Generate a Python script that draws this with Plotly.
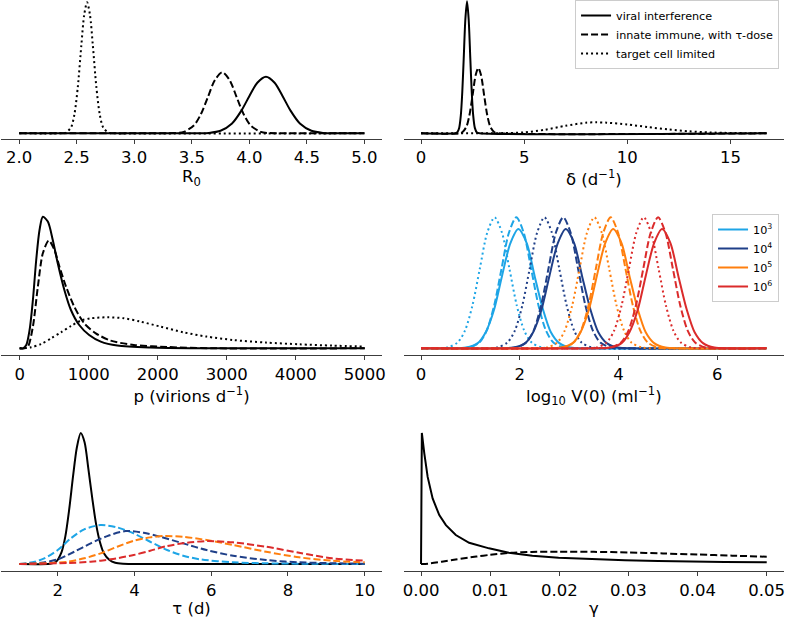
import plotly.graph_objects as go

# ---------------- data (density heights, arbitrary units) -------------
# Panel 1: R0
r0_solid_x = [2.0, 3.55, 3.65, 3.75, 3.85, 3.93, 4.00, 4.07, 4.145, 4.22, 4.29, 4.36, 4.44, 4.54, 4.64, 4.75, 5.0]
r0_solid_y = [0, 0, 0.4, 2.5, 9.8, 22.4, 37.1, 50.6, 56.6, 50.6, 37.1, 22.4, 9.8, 2.5, 0.4, 0, 0]
r0_dashed_x = [2.0, 3.25, 3.35, 3.43, 3.52, 3.58, 3.64, 3.70, 3.765, 3.83, 3.89, 3.95, 4.01, 4.10, 4.18, 4.30, 5.0]
r0_dashed_y = [0, 0, 0.2, 1.4, 8.1, 19.3, 36.2, 53, 61, 53, 36.2, 19.3, 8.1, 1.4, 0.2, 0, 0]
r0_dotted_x = [2.0, 2.35, 2.40, 2.45, 2.48, 2.51, 2.54, 2.565, 2.59, 2.615, 2.64, 2.67, 2.70, 2.73, 2.78, 2.83, 5.0]
r0_dotted_y = [0, 0, 0.4, 5.8, 19, 47, 88, 118.5, 131, 118.5, 88, 47, 19, 5.8, 0.4, 0, 0]

# Panel 2: delta
delta_solid_x = [0, 1.65, 1.75, 1.85, 1.93, 2.00, 2.07, 2.15, 2.23, 2.31, 2.39, 2.46, 2.53, 2.61, 2.71, 2.85, 16.76]
delta_solid_y = [0, 0, 0.8, 5.4, 17.9, 41, 74.8, 114, 132, 114, 74.8, 41, 17.9, 5.4, 0.8, 0, 0]
delta_dashed_x = [0, 1.85, 2.0, 2.2, 2.35, 2.5, 2.65, 2.78, 2.91, 3.06, 3.21, 3.36, 3.56, 3.8, 16.76]
delta_dashed_y = [0, 0, 1.0, 6.5, 18.3, 38, 58.2, 65.3, 58.2, 38, 18.3, 6.5, 1.0, 0, 0]
delta_dotted_x = [0, 3, 4, 5, 6, 7, 8, 8.5, 9, 10, 11, 12, 13, 14, 15, 16, 16.76]
delta_dotted_y = [0, 0, 0.2, 0.9, 3.5, 7.5, 10.6, 11, 10.6, 8.8, 6.2, 3.8, 2.0, 0.9, 0.3, 0.1, 0]

# Panel 3: p
p_solid_x = [0, 50, 96, 144, 192, 240, 288, 336, 408, 480, 552, 648, 743, 863, 1007, 1175, 1415, 1894, 2613, 5000]
p_solid_y = [0, 0, 3.3, 18.3, 48.3, 88.3, 118.3, 131.6, 126.7, 108.3, 85, 58.3, 38.3, 23.3, 13.3, 6.7, 2.7, 0.7, 0, 0]
p_dashed_x = [0, 70, 120, 192, 264, 336, 422, 504, 576, 672, 791, 935, 1103, 1319, 1654, 2134, 2853, 5000]
p_dashed_y = [0, 0, 1.7, 21.7, 61.7, 95, 107.7, 98.3, 81.7, 61.7, 41.7, 25, 15, 7.7, 3.3, 1.3, 0, 0]
p_dotted_x = [0, 24, 168, 312, 456, 600, 743, 887, 1031, 1271, 1510, 1750, 2038, 2373, 2709, 3092, 3572, 4051, 4530, 5000]
p_dotted_y = [0, 0, 1, 4.3, 10, 16, 22.3, 27.7, 30, 31, 30, 26.7, 21.7, 16, 11.7, 8.3, 5.7, 4, 2.7, 1.7]

# Panel 4: log10 V(0), one group per inoculum dose
dose_labels = ["10<sup>3</sup>", "10<sup>4</sup>", "10<sup>5</sup>", "10<sup>6</sup>"]
dose_colors = ["#1ea5e6", "#1f3f88", "#ff7f0e", "#db2b2b"]
v0_solid_y = [0, 0, 0.7, 5.2, 16.1, 38.8, 72.4, 105.2, 119.3, 105.2, 72.4, 38.8, 16.1, 5.2, 0.7, 0, 0]
v0_dashed_y = [0, 0, 0.8, 5.8, 17.7, 42.6, 79.5, 115.5, 131, 115.5, 79.5, 42.6, 17.7, 5.8, 0.8, 0, 0]
v0_dotted_y = [0, 0, 0.8, 5.8, 17.7, 42.6, 79.5, 115.5, 131, 115.5, 79.5, 42.6, 17.7, 5.8, 0.8, 0, 0]
v0_solid_x = [
    [0, 0.62, 0.91, 1.15, 1.31, 1.48, 1.64, 1.81, 1.97, 2.14, 2.30, 2.47, 2.63, 2.80, 3.03, 3.32, 7],
    [0, 1.58, 1.87, 2.11, 2.27, 2.44, 2.60, 2.77, 2.93, 3.10, 3.26, 3.43, 3.59, 3.76, 3.99, 4.28, 7],
    [0, 2.54, 2.83, 3.07, 3.23, 3.40, 3.56, 3.73, 3.89, 4.06, 4.22, 4.39, 4.55, 4.72, 4.95, 5.24, 7],
    [0, 3.53, 3.82, 4.06, 4.22, 4.39, 4.55, 4.72, 4.88, 5.05, 5.21, 5.38, 5.54, 5.71, 5.94, 6.23, 7],
]
v0_dashed_x = [
    [0, 0.68, 0.97, 1.18, 1.33, 1.48, 1.63, 1.78, 1.93, 2.08, 2.23, 2.38, 2.53, 2.68, 2.89, 3.18, 7],
    [0, 1.63, 1.92, 2.13, 2.28, 2.43, 2.58, 2.73, 2.88, 3.03, 3.18, 3.33, 3.48, 3.63, 3.84, 4.13, 7],
    [0, 2.59, 2.88, 3.09, 3.24, 3.39, 3.54, 3.69, 3.84, 3.99, 4.14, 4.29, 4.44, 4.59, 4.80, 5.09, 7],
    [0, 3.55, 3.84, 4.05, 4.20, 4.35, 4.50, 4.65, 4.80, 4.95, 5.10, 5.25, 5.40, 5.55, 5.76, 6.05, 7],
]
v0_dotted_x = [
    [0, 0.24, 0.53, 0.74, 0.89, 1.04, 1.19, 1.34, 1.49, 1.64, 1.79, 1.94, 2.09, 2.24, 2.45, 2.74, 7],
    [0, 1.25, 1.54, 1.75, 1.90, 2.05, 2.20, 2.35, 2.50, 2.65, 2.80, 2.95, 3.10, 3.25, 3.46, 3.75, 7],
    [0, 2.26, 2.55, 2.76, 2.91, 3.06, 3.21, 3.36, 3.51, 3.66, 3.81, 3.96, 4.11, 4.26, 4.47, 4.76, 7],
    [0, 3.26, 3.55, 3.76, 3.91, 4.06, 4.21, 4.36, 4.51, 4.66, 4.81, 4.96, 5.11, 5.26, 5.47, 5.76, 7],
]

# Panel 5: tau
tau_solid_x = [1.0, 1.8, 1.95, 2.1, 2.2, 2.3, 2.4, 2.5, 2.6, 2.7, 2.8, 2.9, 3.0, 3.1, 3.2, 3.35, 3.5, 3.7, 4.0, 10.0]
tau_solid_y = [0, 0.3, 2, 12, 28, 55, 88, 117, 131.3, 122, 95, 66, 40, 22, 11, 4, 1.2, 0.2, 0, 0]
tau_dashed_x = [
    [1.0, 1.40, 1.65, 2.0, 2.34, 2.69, 3.12, 3.55, 3.98, 4.41, 4.85, 5.27, 5.71, 6.57, 7.43, 10.0],
    [1.0, 1.57, 2.0, 2.43, 2.86, 3.29, 3.77, 4.24, 4.67, 5.27, 5.88, 6.57, 7.43, 8.29, 10.0],
    [1.0, 1.83, 2.26, 2.69, 3.12, 3.55, 3.98, 4.41, 4.76, 5.27, 5.88, 6.57, 7.43, 8.29, 9.15, 10.0],
    [1.0, 2.26, 2.86, 3.38, 3.98, 4.41, 4.85, 5.36, 5.88, 6.57, 7.43, 8.29, 9.15, 10.0],
]
tau_dashed_y = [
    [0, 2.3, 5.7, 14, 25.7, 34.7, 39, 36.7, 30.7, 22.3, 14, 8.3, 4.7, 1.7, 0.7, 0],
    [0, 1.3, 4.7, 12.3, 20.7, 28, 33, 31.3, 27.3, 20.7, 14, 8.3, 4, 1.7, 0.3],
    [0, 1, 2.3, 5.7, 10.7, 17.3, 23.3, 26.7, 28, 27.3, 24, 19, 12.3, 6.7, 3.3, 1.7],
    [0, 1, 2.3, 4.7, 9, 13.3, 18, 21.3, 23, 21.7, 17.3, 11.3, 5.7, 3.3],
]

# Panel 6: gamma
gamma_solid_x = [0, 0.00012, 0.00048, 0.00096, 0.00168, 0.00264, 0.0036, 0.00503, 0.00696, 0.00983,
                 0.0127, 0.0161, 0.0199, 0.0247, 0.0295, 0.0343, 0.0391, 0.0439, 0.05]
gamma_solid_y = [0, 131.3, 110.7, 87.3, 65.7, 49, 39, 29, 21.3, 15.7, 11.3, 8.3, 6.3, 4.7, 3.7, 3, 2.3, 2, 1.7]
gamma_dashed_x = [0, 0.001, 0.003, 0.005, 0.008, 0.010, 0.013, 0.016, 0.020, 0.025, 0.030, 0.035, 0.040, 0.045, 0.050]
gamma_dashed_y = [0, 0.3, 2.3, 4.5, 7.5, 9.2, 11.2, 12.1, 12.4, 12.2, 11.6, 10.6, 9.5, 8.4, 7.3]

model_names = ["viral interference", "innate immune, with τ-dose", "target cell limited"]

# ---------------- figure ----------------
W, H = 790, 618
FONT = "DejaVu Sans"
DASH = "7px,3px"
DOT = "2px,3px"

fig = go.Figure()


def add(x, y, ax, color="black", dash="solid", name=None, legend=None, show=False, shape="spline"):
    fig.add_trace(go.Scatter(
        x=x, y=y, mode="lines", name=name, legend=legend, showlegend=show,
        line=dict(color=color, width=2, dash=dash, shape=shape, smoothing=0.8),
        xaxis="x" + ("" if ax == 1 else str(ax)), yaxis="y" + ("" if ax == 1 else str(ax)),
        hoverinfo="skip"))


# panel 1
add(r0_solid_x, r0_solid_y, 1, name=model_names[0], legend="legend", show=True)
add(r0_dashed_x, r0_dashed_y, 1, dash=DASH, name=model_names[1], legend="legend", show=True)
add(r0_dotted_x, r0_dotted_y, 1, dash=DOT, name=model_names[2], legend="legend", show=True)
# panel 2
add(delta_solid_x, delta_solid_y, 2)
add(delta_dashed_x, delta_dashed_y, 2, dash=DASH)
add(delta_dotted_x, delta_dotted_y, 2, dash=DOT)
# panel 3
add(p_solid_x, p_solid_y, 3)
add(p_dashed_x, p_dashed_y, 3, dash=DASH)
add(p_dotted_x, p_dotted_y, 3, dash=DOT)
# panel 4
for i in range(4):
    add(v0_solid_x[i], v0_solid_y, 4, color=dose_colors[i], name=dose_labels[i], legend="legend2", show=True)
    add(v0_dashed_x[i], v0_dashed_y, 4, color=dose_colors[i], dash=DASH)
    add(v0_dotted_x[i], v0_dotted_y, 4, color=dose_colors[i], dash=DOT)
# panel 5
add(tau_solid_x, tau_solid_y, 5)
for i in range(4):
    add(tau_dashed_x[i], tau_dashed_y[i], 5, color=dose_colors[i], dash=DASH)
# panel 6
add(gamma_solid_x, gamma_solid_y, 6, shape="linear")
add(gamma_dashed_x, gamma_dashed_y, 6, dash=DASH)


def xd(a, b):
    return [a / W, b / W]


def yd(top, bottom):
    return [1 - bottom / H, 1 - top / H]


LEFT = xd(0.5, 383)
RIGHT = xd(405.3, 788)
ROW1 = yd(0, 138.5)
ROW2 = yd(210, 355)
ROW3 = yd(426, 570.7)

axis_common = dict(showline=True, linecolor="#3c3c3c", linewidth=1, ticks="outside", ticklen=4,
                   tickwidth=1, tickcolor="#3c3c3c", showgrid=False, zeroline=False,
                   tickfont=dict(family=FONT, size=16.5, color="black"))
yaxis_common = dict(visible=False, showgrid=False, zeroline=False, fixedrange=True)


def xa(domain, anchor, rng, tickvals, ticktext, title):
    d = dict(axis_common)
    d.update(domain=domain, anchor=anchor, range=rng, tickvals=tickvals, ticktext=ticktext,
             title=dict(text=title, font=dict(family=FONT, size=16.5, color="black"), standoff=3))
    return d


fig.update_layout(
    width=W, height=H, margin=dict(l=0, r=0, t=0, b=0),
    paper_bgcolor="white", plot_bgcolor="white",
    font=dict(family=FONT, color="black"),
    xaxis=xa(LEFT, "y", [1.846, 5.15], [2.0, 2.5, 3.0, 3.5, 4.0, 4.5, 5.0],
             ["2.0", "2.5", "3.0", "3.5", "4.0", "4.5", "5.0"], "R<sub>0</sub>"),
    yaxis=dict(yaxis_common, domain=ROW1, anchor="x", range=[-5.2, 133.3]),
    xaxis2=xa(RIGHT, "y2", [-0.838, 17.6], [0, 5, 10, 15], ["0", "5", "10", "15"], "δ (d<sup>−1</sup>)"),
    yaxis2=dict(yaxis_common, domain=ROW1, anchor="x2", range=[-5.2, 133.3]),
    xaxis3=xa(LEFT, "y3", [-263, 5244], [0, 1000, 2000, 3000, 4000, 5000],
              ["0", "1000", "2000", "3000", "4000", "5000"], "p (virions d<sup>−1</sup>)"),
    yaxis3=dict(yaxis_common, domain=ROW2, anchor="x3", range=[-6.7, 138.3]),
    xaxis4=xa(RIGHT, "y4", [-0.35, 7.35], [0, 2, 4, 6], ["0", "2", "4", "6"],
              "log<sub>10</sub> V(0) (ml<sup>−1</sup>)"),
    yaxis4=dict(yaxis_common, domain=ROW2, anchor="x4", range=[-6.7, 138.3]),
    xaxis5=xa(LEFT, "y5", [0.535, 10.44], [2, 4, 6, 8, 10], ["2", "4", "6", "8", "10"], "τ (d)"),
    yaxis5=dict(yaxis_common, domain=ROW3, anchor="x5", range=[-6.7, 138.3]),
    xaxis6=xa(RIGHT, "y6", [-0.0025, 0.0525], [0, 0.01, 0.02, 0.03, 0.04, 0.05],
              ["0.00", "0.01", "0.02", "0.03", "0.04", "0.05"], "γ"),
    yaxis6=dict(yaxis_common, domain=ROW3, anchor="x6", range=[-6.7, 138.3]),
    legend=dict(x=783 / W, y=1.0, xanchor="right", yanchor="top",
                bgcolor="rgba(255,255,255,0.85)", bordercolor="#cccccc", borderwidth=1,
                font=dict(family=FONT, size=11.2, color="black"), tracegroupgap=0),
    legend2=dict(x=783 / W, y=1 - 214 / H, xanchor="right", yanchor="top",
                 bgcolor="rgba(255,255,255,0.85)", bordercolor="#cccccc", borderwidth=1,
                 font=dict(family=FONT, size=11.2, color="black"), tracegroupgap=0),
)

fig.write_html("out.html", config={"displayModeBar": False},
               post_script="document.body.style.margin='0';document.body.style.padding='0';"
                           "document.body.style.overflow='hidden';")
